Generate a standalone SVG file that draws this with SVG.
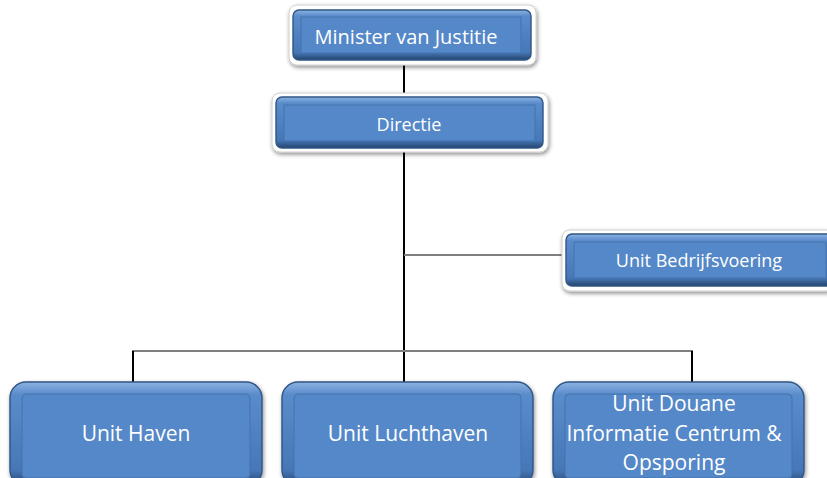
<svg xmlns="http://www.w3.org/2000/svg" width="827" height="478" viewBox="0 0 827 478">
<defs>
<filter id="sh" x="-10%" y="-20%" width="120%" height="150%">
<feGaussianBlur in="SourceAlpha" stdDeviation="2"/>
<feOffset dx="1" dy="2"/>
<feComponentTransfer><feFuncA type="linear" slope="0.45"/></feComponentTransfer>
<feMerge><feMergeNode/><feMergeNode in="SourceGraphic"/></feMerge>
</filter>
<linearGradient id="edge" x1="0" y1="0" x2="0" y2="1">
<stop offset="0" stop-color="#8db3e2"/>
<stop offset="0.12" stop-color="#5a8ccb"/>
<stop offset="0.85" stop-color="#4677b6"/>
<stop offset="1" stop-color="#25446c"/>
</linearGradient>
</defs>
<style>
.frame{fill:#ffffff;stroke:#d0d0d0;stroke-width:1}
.box{fill:url(#edge);stroke:#2f5584;stroke-width:1.4}
.inner{fill:#5588c8;stroke:#4573ad;stroke-width:1}
.t{font-family:"Open Sans","Liberation Sans",sans-serif;fill:#ffffff;text-anchor:middle}
.c{stroke:#000000;stroke-width:2;fill:none}
.g{stroke:#7f7f7f;stroke-width:2;fill:none}
</style>
<g id="connectors">
<line class="c" x1="404" y1="62" x2="404" y2="97"/>
<line class="c" x1="404" y1="150" x2="404" y2="384"/>
<line class="g" x1="404" y1="255" x2="567" y2="255"/>
<line class="g" x1="132" y1="351" x2="693" y2="351"/>
<line class="c" x1="133" y1="351" x2="133" y2="384"/>
<line class="c" x1="692" y1="351" x2="692" y2="384"/>
</g>
<g id="minister">
<rect class="frame" x="289" y="5" width="247" height="60" rx="8" filter="url(#sh)"/>
<rect class="box" x="293" y="10" width="238" height="50" rx="6"/>
<rect class="inner" x="301" y="17" width="220" height="36"/>
<text class="t" x="406" y="44" font-size="20">Minister van Justitie</text>
</g>
<g id="directie">
<rect class="frame" x="272" y="93" width="276" height="59" rx="8" filter="url(#sh)"/>
<rect class="box" x="276" y="97" width="267" height="51" rx="6"/>
<rect class="inner" x="284" y="105" width="251" height="36"/>
<text class="t" x="409" y="131" font-size="18">Directie</text>
</g>
<g id="bedrijfsvoering">
<rect class="frame" x="562" y="230" width="272" height="61" rx="8" filter="url(#sh)"/>
<rect class="box" x="566" y="234" width="268" height="52" rx="6"/>
<rect class="inner" x="574" y="242" width="252" height="36"/>
<text class="t" x="699" y="267" font-size="18">Unit Bedrijfsvoering</text>
</g>
<g id="haven">
<rect class="box" x="10" y="382" width="252" height="104" rx="16" filter="url(#sh)"/>
<rect class="inner" x="22" y="394" width="228" height="84" rx="4"/>
<text class="t" x="136" y="441" font-size="21">Unit Haven</text>
</g>
<g id="luchthaven">
<rect class="box" x="282" y="382" width="251" height="104" rx="16" filter="url(#sh)"/>
<rect class="inner" x="294" y="394" width="227" height="84" rx="4"/>
<text class="t" x="408" y="441" font-size="21">Unit Luchthaven</text>
</g>
<g id="douane">
<rect class="box" x="553" y="382" width="251" height="104" rx="16" filter="url(#sh)"/>
<rect class="inner" x="565" y="394" width="227" height="84" rx="4"/>
<text class="t" x="674" y="411" font-size="21">Unit Douane</text>
<text class="t" x="674" y="441" font-size="21">Informatie Centrum &amp;</text>
<text class="t" x="674" y="470" font-size="21">Opsporing</text>
</g>
</svg>
